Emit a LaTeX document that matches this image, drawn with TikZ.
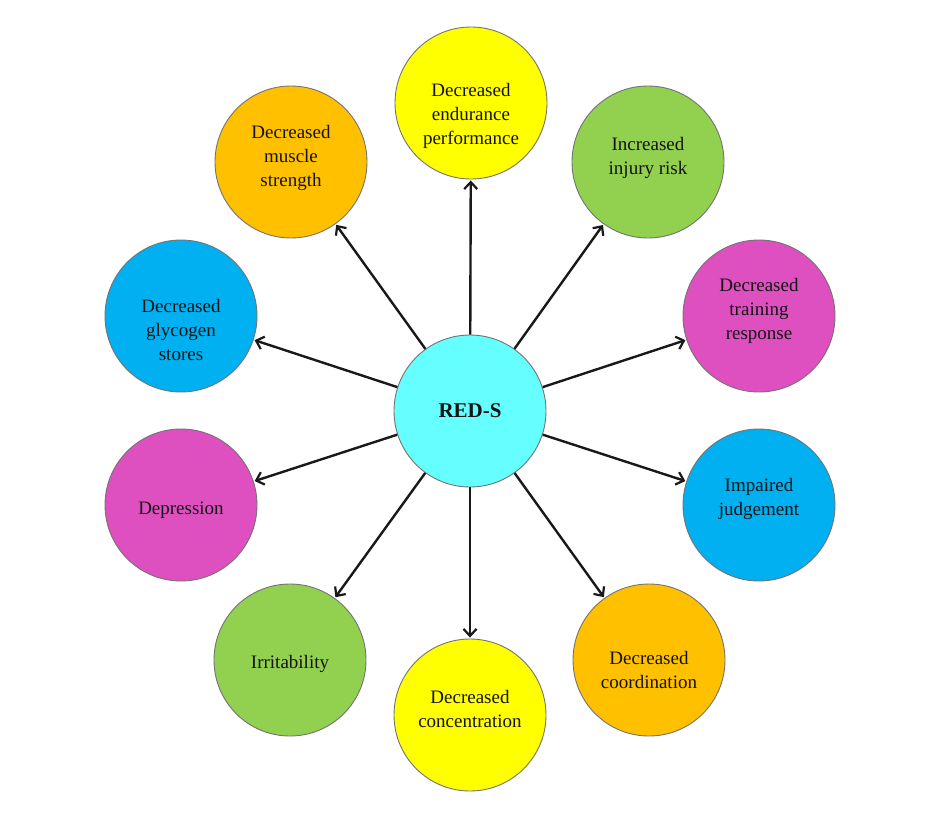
\documentclass[tikz,border=0pt]{standalone}
\usepackage{fontspec}
\setmainfont{Liberation Serif}
\usetikzlibrary{arrows.meta}
\definecolor{cyanc}{RGB}{102,255,255}
\definecolor{yellowc}{RGB}{255,255,0}
\definecolor{greenc}{RGB}{146,208,80}
\definecolor{goldc}{RGB}{255,192,0}
\definecolor{bluec}{RGB}{0,176,240}
\definecolor{pinkc}{RGB}{222,80,192}
\begin{document}
\begin{tikzpicture}[x=1pt, y=-1pt,
  every node/.style={font=\fontsize{19}{24}\selectfont, text=black!92},
  blob/.style={circle, draw=black!55, line width=0.9pt, minimum size=152pt, inner sep=0pt},
  txt/.style={align=center, inner sep=0pt},
  link/.style={line width=2.4pt, black!90, -{Straight Barb[length=7pt, width=13pt, line width=2.2pt]}, shorten >=1pt}]
  \useasboundingbox[fill=white] (0,0) rectangle (936,816);
  % hub
  \node[blob, fill=cyanc, font=\fontsize{21}{24}\selectfont\bfseries] (reds) at (470,411) {RED-S};
  % ring of effects, clockwise from the top (labels sit a little off centre, as drawn)
  \node[blob, fill=yellowc, label={[txt, yshift=-13pt]center:{Decreased\\endurance\\performance}}] (endur) at (471,103) {};
  \node[blob, fill=greenc, label={[txt, yshift=4pt]center:{Increased\\injury risk}}] (injury) at (648,162) {};
  \node[blob, fill=pinkc, label={[txt, yshift=5pt]center:{Decreased\\training\\response}}] (train) at (759,316) {};
  \node[blob, fill=bluec, label={[txt, yshift=6pt]center:{Impaired\\judgement}}] (judge) at (759,505) {};
  \node[blob, fill=goldc, label={[txt, yshift=-10pt]center:{Decreased\\coordination}}] (coord) at (649,660) {};
  \node[blob, fill=yellowc, label={[txt, yshift=6pt]center:{Decreased\\concentration}}] (concen) at (470,715) {};
  \node[blob, fill=greenc, label={[txt, yshift=-4pt]center:{Irritability}}] (irrit) at (290,660) {};
  \node[blob, fill=pinkc, label={[txt, yshift=-5pt]center:{Depression}}] (depress) at (181,505) {};
  \node[blob, fill=bluec, label={[txt, yshift=-14pt]center:{Decreased\\glycogen\\stores}}] (glyco) at (181,316) {};
  \node[blob, fill=goldc, label={[txt, yshift=4pt]center:{Decreased\\muscle\\strength}}] (muscle) at (291,162) {};
  % arrows out of the hub
  \draw[link] (reds)--(endur); \draw[link] (reds)--(injury); \draw[link] (reds)--(train);
  \draw[link] (reds)--(judge); \draw[link] (reds)--(coord); \draw[link] (reds)--(concen);
  \draw[link] (reds)--(irrit); \draw[link] (reds)--(depress); \draw[link] (reds)--(glyco);
  \draw[link] (reds)--(muscle);
\end{tikzpicture}
\end{document}
